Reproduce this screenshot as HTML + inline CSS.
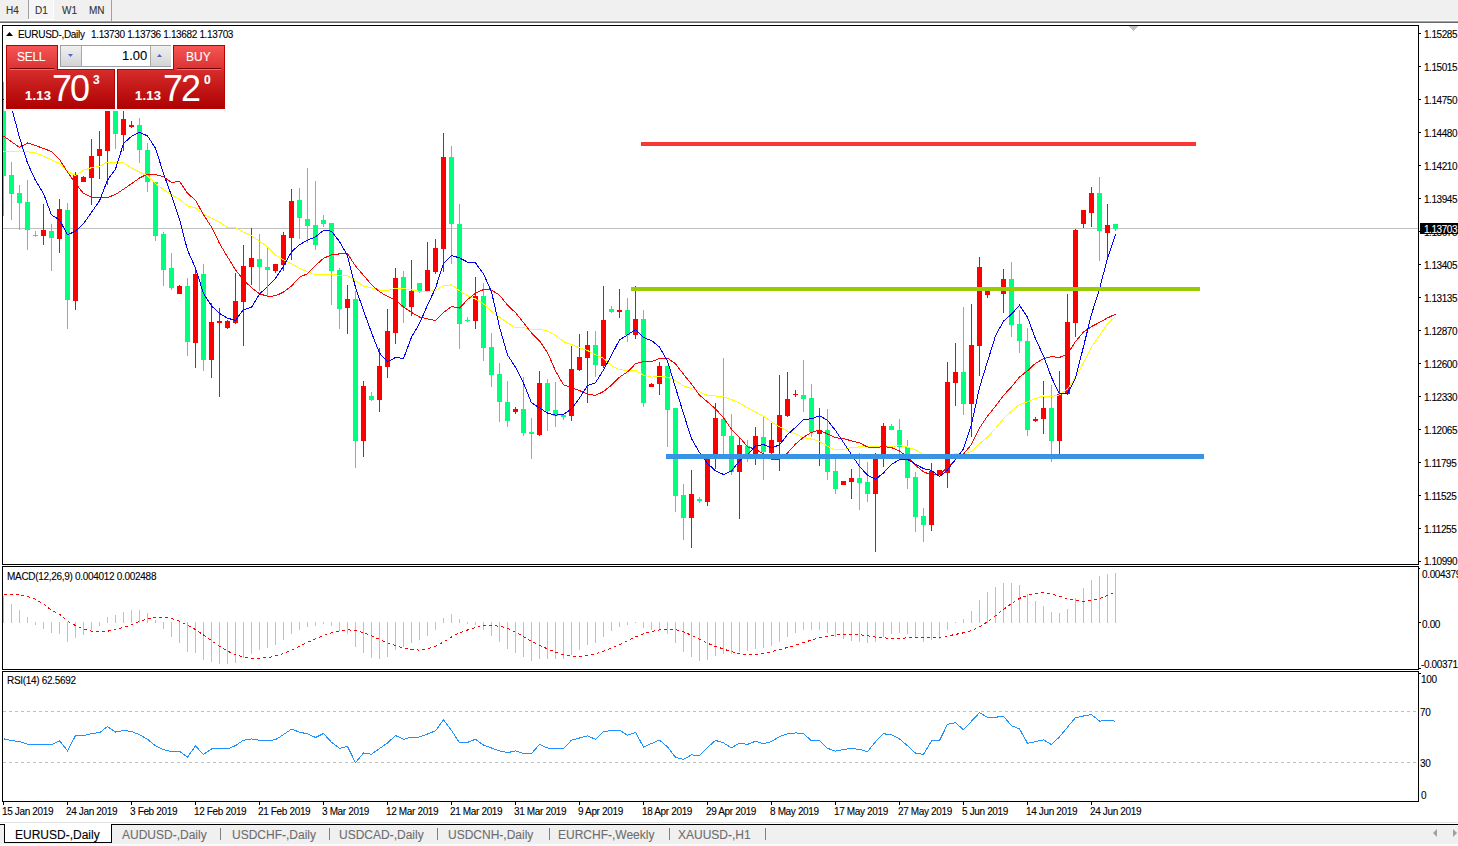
<!DOCTYPE html>
<html><head><meta charset="utf-8"><title>EURUSD Daily</title>
<style>
html,body{margin:0;padding:0}
body{width:1458px;height:846px;position:relative;overflow:hidden;background:#fff;font-family:"Liberation Sans",sans-serif}
.t{position:absolute;white-space:nowrap;line-height:1;-webkit-text-stroke:0.1px currentColor}
.a{position:absolute}
</style></head><body>

<div class="a" style="left:0;top:0;width:1458px;height:20px;background:#f0f0f0"></div>
<div class="a" style="left:0;top:20px;width:1458px;height:1px;background:#f9f9f9"></div>
<div class="a" style="left:0;top:21px;width:1458px;height:1px;background:#a0a0a0"></div>
<div class="a" style="left:0;top:22px;width:1458px;height:1px;background:#6a6a6a"></div>
<div class="a" style="left:28px;top:0;width:1px;height:19px;background:#a0a0a0"></div>
<div class="a" style="left:29px;top:0;width:24px;height:19px;background:#f6f6f6"></div>
<div class="a" style="left:53px;top:0;width:1px;height:20px;background:#fff"></div>
<div class="a" style="left:28px;top:19px;width:26px;height:1px;background:#fff"></div>
<div class="a" style="left:111px;top:0;width:1px;height:21px;background:#a0a0a0"></div>
<div class="t" style="left:6px;top:6px;font-size:10px;color:#333;letter-spacing:0;">H4</div>
<div class="t" style="left:35px;top:6px;font-size:10px;color:#333;letter-spacing:0;">D1</div>
<div class="t" style="left:62px;top:6px;font-size:10px;color:#333;letter-spacing:0;">W1</div>
<div class="t" style="left:89px;top:6px;font-size:10px;color:#333;letter-spacing:0;">MN</div>
<svg class="a" style="left:0;top:0" width="1458" height="846">
<defs><clipPath id="cm"><rect x="3" y="26" width="1415" height="538"/></clipPath><clipPath id="cd"><rect x="3" y="567" width="1415" height="102"/></clipPath><clipPath id="cr"><rect x="3" y="672" width="1415" height="129"/></clipPath></defs>
<g fill="#000" shape-rendering="crispEdges"><rect x="2" y="25" width="1417" height="1"/><rect x="2" y="564" width="1417" height="1"/><rect x="2" y="25" width="1" height="540"/><rect x="1418" y="25" width="1" height="540"/><rect x="2" y="566" width="1417" height="1"/><rect x="2" y="669" width="1417" height="1"/><rect x="2" y="566" width="1" height="104"/><rect x="1418" y="566" width="1" height="104"/><rect x="2" y="671" width="1417" height="1"/><rect x="2" y="801" width="1417" height="1"/><rect x="2" y="671" width="1" height="131"/><rect x="1418" y="671" width="1" height="131"/></g>
<g clip-path="url(#cm)" shape-rendering="crispEdges">
<rect x="3" y="228" width="1415" height="1" fill="#c0c0c0"/>
<rect x="3" y="82" width="1" height="134" fill="#00ff7f"/>
<rect x="1" y="110" width="5" height="66" fill="#00ff7f"/>
<rect x="11" y="162" width="1" height="58" fill="#00ff7f"/>
<rect x="9" y="175" width="5" height="19" fill="#00ff7f"/>
<rect x="19" y="185" width="1" height="45" fill="#00ff7f"/>
<rect x="17" y="193" width="5" height="10" fill="#00ff7f"/>
<rect x="27" y="180" width="1" height="70" fill="#00ff7f"/>
<rect x="25" y="202" width="5" height="28" fill="#00ff7f"/>
<rect x="35" y="231" width="1" height="6" fill="#00ff7f"/>
<rect x="33" y="235" width="5" height="1" fill="#00ff7f"/>
<rect x="43" y="204" width="1" height="41" fill="#ff0000"/>
<rect x="41" y="230" width="5" height="6" fill="#ff0000"/>
<rect x="51" y="224" width="1" height="47" fill="#00ff7f"/>
<rect x="49" y="231" width="5" height="7" fill="#00ff7f"/>
<rect x="59" y="199" width="1" height="54" fill="#ff0000"/>
<rect x="57" y="209" width="5" height="30" fill="#ff0000"/>
<rect x="67" y="203" width="1" height="126" fill="#00ff7f"/>
<rect x="65" y="210" width="5" height="90" fill="#00ff7f"/>
<rect x="75" y="172" width="1" height="138" fill="#ff0000"/>
<rect x="73" y="175" width="5" height="126" fill="#ff0000"/>
<rect x="83" y="176" width="1" height="6" fill="#ff0000"/>
<rect x="81" y="177" width="5" height="5" fill="#ff0000"/>
<rect x="91" y="139" width="1" height="66" fill="#ff0000"/>
<rect x="89" y="156" width="5" height="22" fill="#ff0000"/>
<rect x="99" y="131" width="1" height="48" fill="#ff0000"/>
<rect x="97" y="149" width="5" height="7" fill="#ff0000"/>
<rect x="107" y="88" width="1" height="97" fill="#ff0000"/>
<rect x="105" y="92" width="5" height="59" fill="#ff0000"/>
<rect x="115" y="95" width="1" height="54" fill="#00ff7f"/>
<rect x="113" y="100" width="5" height="34" fill="#00ff7f"/>
<rect x="123" y="111" width="1" height="40" fill="#ff0000"/>
<rect x="121" y="119" width="5" height="16" fill="#ff0000"/>
<rect x="131" y="121" width="1" height="7" fill="#ff0000"/>
<rect x="129" y="125" width="5" height="2" fill="#ff0000"/>
<rect x="139" y="118" width="1" height="45" fill="#00ff7f"/>
<rect x="137" y="125" width="5" height="25" fill="#00ff7f"/>
<rect x="147" y="143" width="1" height="49" fill="#00ff7f"/>
<rect x="145" y="150" width="5" height="32" fill="#00ff7f"/>
<rect x="155" y="182" width="1" height="59" fill="#00ff7f"/>
<rect x="153" y="182" width="5" height="54" fill="#00ff7f"/>
<rect x="163" y="232" width="1" height="54" fill="#00ff7f"/>
<rect x="161" y="234" width="5" height="36" fill="#00ff7f"/>
<rect x="171" y="253" width="1" height="37" fill="#00ff7f"/>
<rect x="169" y="268" width="5" height="20" fill="#00ff7f"/>
<rect x="179" y="285" width="1" height="9" fill="#ff0000"/>
<rect x="177" y="286" width="5" height="8" fill="#ff0000"/>
<rect x="187" y="278" width="1" height="78" fill="#00ff7f"/>
<rect x="185" y="286" width="5" height="56" fill="#00ff7f"/>
<rect x="195" y="269" width="1" height="99" fill="#ff0000"/>
<rect x="193" y="274" width="5" height="69" fill="#ff0000"/>
<rect x="203" y="264" width="1" height="107" fill="#00ff7f"/>
<rect x="201" y="274" width="5" height="86" fill="#00ff7f"/>
<rect x="211" y="303" width="1" height="75" fill="#ff0000"/>
<rect x="209" y="322" width="5" height="38" fill="#ff0000"/>
<rect x="219" y="308" width="1" height="89" fill="#ff0000"/>
<rect x="217" y="321" width="5" height="2" fill="#ff0000"/>
<rect x="227" y="320" width="1" height="9" fill="#ff0000"/>
<rect x="225" y="321" width="5" height="7" fill="#ff0000"/>
<rect x="235" y="273" width="1" height="51" fill="#ff0000"/>
<rect x="233" y="301" width="5" height="22" fill="#ff0000"/>
<rect x="243" y="245" width="1" height="101" fill="#ff0000"/>
<rect x="241" y="266" width="5" height="36" fill="#ff0000"/>
<rect x="251" y="228" width="1" height="57" fill="#ff0000"/>
<rect x="249" y="258" width="5" height="9" fill="#ff0000"/>
<rect x="259" y="234" width="1" height="57" fill="#00ff7f"/>
<rect x="257" y="259" width="5" height="8" fill="#00ff7f"/>
<rect x="267" y="247" width="1" height="49" fill="#00ff7f"/>
<rect x="265" y="267" width="5" height="3" fill="#00ff7f"/>
<rect x="275" y="264" width="1" height="9" fill="#ff0000"/>
<rect x="273" y="264" width="5" height="7" fill="#ff0000"/>
<rect x="283" y="232" width="1" height="39" fill="#ff0000"/>
<rect x="281" y="235" width="5" height="30" fill="#ff0000"/>
<rect x="291" y="189" width="1" height="71" fill="#ff0000"/>
<rect x="289" y="201" width="5" height="37" fill="#ff0000"/>
<rect x="299" y="188" width="1" height="51" fill="#00ff7f"/>
<rect x="297" y="200" width="5" height="18" fill="#00ff7f"/>
<rect x="307" y="168" width="1" height="75" fill="#00ff7f"/>
<rect x="305" y="219" width="5" height="7" fill="#00ff7f"/>
<rect x="315" y="181" width="1" height="69" fill="#00ff7f"/>
<rect x="313" y="225" width="5" height="20" fill="#00ff7f"/>
<rect x="323" y="215" width="1" height="12" fill="#00ff7f"/>
<rect x="321" y="220" width="5" height="4" fill="#00ff7f"/>
<rect x="331" y="223" width="1" height="82" fill="#00ff7f"/>
<rect x="329" y="223" width="5" height="48" fill="#00ff7f"/>
<rect x="339" y="268" width="1" height="61" fill="#00ff7f"/>
<rect x="337" y="270" width="5" height="39" fill="#00ff7f"/>
<rect x="347" y="285" width="1" height="49" fill="#ff0000"/>
<rect x="345" y="299" width="5" height="9" fill="#ff0000"/>
<rect x="355" y="291" width="1" height="177" fill="#00ff7f"/>
<rect x="353" y="299" width="5" height="142" fill="#00ff7f"/>
<rect x="363" y="381" width="1" height="76" fill="#ff0000"/>
<rect x="361" y="386" width="5" height="55" fill="#ff0000"/>
<rect x="371" y="392" width="1" height="9" fill="#00ff7f"/>
<rect x="369" y="396" width="5" height="4" fill="#00ff7f"/>
<rect x="379" y="348" width="1" height="64" fill="#ff0000"/>
<rect x="377" y="366" width="5" height="34" fill="#ff0000"/>
<rect x="387" y="309" width="1" height="69" fill="#ff0000"/>
<rect x="385" y="331" width="5" height="36" fill="#ff0000"/>
<rect x="395" y="268" width="1" height="76" fill="#ff0000"/>
<rect x="393" y="278" width="5" height="55" fill="#ff0000"/>
<rect x="403" y="271" width="1" height="52" fill="#00ff7f"/>
<rect x="401" y="277" width="5" height="30" fill="#00ff7f"/>
<rect x="411" y="260" width="1" height="56" fill="#ff0000"/>
<rect x="409" y="291" width="5" height="16" fill="#ff0000"/>
<rect x="419" y="283" width="1" height="10" fill="#00ff7f"/>
<rect x="417" y="283" width="5" height="8" fill="#00ff7f"/>
<rect x="427" y="242" width="1" height="49" fill="#ff0000"/>
<rect x="425" y="270" width="5" height="21" fill="#ff0000"/>
<rect x="435" y="239" width="1" height="35" fill="#ff0000"/>
<rect x="433" y="248" width="5" height="24" fill="#ff0000"/>
<rect x="443" y="133" width="1" height="139" fill="#ff0000"/>
<rect x="441" y="157" width="5" height="92" fill="#ff0000"/>
<rect x="451" y="146" width="1" height="118" fill="#00ff7f"/>
<rect x="449" y="157" width="5" height="67" fill="#00ff7f"/>
<rect x="459" y="204" width="1" height="145" fill="#00ff7f"/>
<rect x="457" y="224" width="5" height="100" fill="#00ff7f"/>
<rect x="467" y="317" width="1" height="5" fill="#00ff7f"/>
<rect x="465" y="320" width="5" height="1" fill="#00ff7f"/>
<rect x="475" y="277" width="1" height="52" fill="#ff0000"/>
<rect x="473" y="296" width="5" height="25" fill="#ff0000"/>
<rect x="483" y="283" width="1" height="78" fill="#00ff7f"/>
<rect x="481" y="296" width="5" height="52" fill="#00ff7f"/>
<rect x="491" y="333" width="1" height="54" fill="#00ff7f"/>
<rect x="489" y="347" width="5" height="28" fill="#00ff7f"/>
<rect x="499" y="363" width="1" height="59" fill="#00ff7f"/>
<rect x="497" y="374" width="5" height="28" fill="#00ff7f"/>
<rect x="507" y="381" width="1" height="46" fill="#00ff7f"/>
<rect x="505" y="402" width="5" height="19" fill="#00ff7f"/>
<rect x="515" y="407" width="1" height="7" fill="#ff0000"/>
<rect x="513" y="409" width="5" height="3" fill="#ff0000"/>
<rect x="523" y="377" width="1" height="59" fill="#00ff7f"/>
<rect x="521" y="409" width="5" height="24" fill="#00ff7f"/>
<rect x="531" y="418" width="1" height="41" fill="#00ff7f"/>
<rect x="529" y="432" width="5" height="2" fill="#00ff7f"/>
<rect x="539" y="371" width="1" height="65" fill="#ff0000"/>
<rect x="537" y="383" width="5" height="52" fill="#ff0000"/>
<rect x="547" y="379" width="1" height="52" fill="#00ff7f"/>
<rect x="545" y="383" width="5" height="28" fill="#00ff7f"/>
<rect x="555" y="382" width="1" height="45" fill="#00ff7f"/>
<rect x="553" y="410" width="5" height="6" fill="#00ff7f"/>
<rect x="563" y="415" width="1" height="5" fill="#00ff7f"/>
<rect x="561" y="415" width="5" height="2" fill="#00ff7f"/>
<rect x="571" y="346" width="1" height="75" fill="#ff0000"/>
<rect x="569" y="369" width="5" height="47" fill="#ff0000"/>
<rect x="579" y="334" width="1" height="37" fill="#ff0000"/>
<rect x="577" y="357" width="5" height="13" fill="#ff0000"/>
<rect x="587" y="331" width="1" height="72" fill="#ff0000"/>
<rect x="585" y="345" width="5" height="13" fill="#ff0000"/>
<rect x="595" y="331" width="1" height="46" fill="#00ff7f"/>
<rect x="593" y="345" width="5" height="20" fill="#00ff7f"/>
<rect x="603" y="286" width="1" height="82" fill="#ff0000"/>
<rect x="601" y="320" width="5" height="46" fill="#ff0000"/>
<rect x="611" y="306" width="1" height="7" fill="#00ff7f"/>
<rect x="609" y="309" width="5" height="3" fill="#00ff7f"/>
<rect x="619" y="289" width="1" height="29" fill="#ff0000"/>
<rect x="617" y="310" width="5" height="2" fill="#ff0000"/>
<rect x="627" y="298" width="1" height="44" fill="#00ff7f"/>
<rect x="625" y="310" width="5" height="25" fill="#00ff7f"/>
<rect x="635" y="286" width="1" height="53" fill="#ff0000"/>
<rect x="633" y="319" width="5" height="16" fill="#ff0000"/>
<rect x="643" y="310" width="1" height="97" fill="#00ff7f"/>
<rect x="641" y="319" width="5" height="84" fill="#00ff7f"/>
<rect x="651" y="383" width="1" height="4" fill="#ff0000"/>
<rect x="649" y="384" width="5" height="3" fill="#ff0000"/>
<rect x="659" y="362" width="1" height="33" fill="#ff0000"/>
<rect x="657" y="366" width="5" height="18" fill="#ff0000"/>
<rect x="667" y="366" width="1" height="81" fill="#00ff7f"/>
<rect x="665" y="366" width="5" height="44" fill="#00ff7f"/>
<rect x="675" y="408" width="1" height="104" fill="#00ff7f"/>
<rect x="673" y="408" width="5" height="88" fill="#00ff7f"/>
<rect x="683" y="484" width="1" height="56" fill="#00ff7f"/>
<rect x="681" y="495" width="5" height="23" fill="#00ff7f"/>
<rect x="691" y="470" width="1" height="78" fill="#ff0000"/>
<rect x="689" y="494" width="5" height="24" fill="#ff0000"/>
<rect x="699" y="497" width="1" height="6" fill="#00ff7f"/>
<rect x="697" y="499" width="5" height="2" fill="#00ff7f"/>
<rect x="707" y="456" width="1" height="50" fill="#ff0000"/>
<rect x="705" y="459" width="5" height="43" fill="#ff0000"/>
<rect x="715" y="403" width="1" height="66" fill="#ff0000"/>
<rect x="713" y="418" width="5" height="36" fill="#ff0000"/>
<rect x="723" y="358" width="1" height="97" fill="#00ff7f"/>
<rect x="721" y="419" width="5" height="17" fill="#00ff7f"/>
<rect x="731" y="414" width="1" height="61" fill="#00ff7f"/>
<rect x="729" y="436" width="5" height="36" fill="#00ff7f"/>
<rect x="739" y="438" width="1" height="81" fill="#ff0000"/>
<rect x="737" y="445" width="5" height="27" fill="#ff0000"/>
<rect x="747" y="440" width="1" height="22" fill="#00ff7f"/>
<rect x="745" y="446" width="5" height="8" fill="#00ff7f"/>
<rect x="755" y="427" width="1" height="38" fill="#ff0000"/>
<rect x="753" y="436" width="5" height="18" fill="#ff0000"/>
<rect x="763" y="417" width="1" height="63" fill="#00ff7f"/>
<rect x="761" y="437" width="5" height="15" fill="#00ff7f"/>
<rect x="771" y="423" width="1" height="37" fill="#ff0000"/>
<rect x="769" y="440" width="5" height="13" fill="#ff0000"/>
<rect x="779" y="375" width="1" height="96" fill="#ff0000"/>
<rect x="777" y="415" width="5" height="27" fill="#ff0000"/>
<rect x="787" y="372" width="1" height="45" fill="#ff0000"/>
<rect x="785" y="399" width="5" height="17" fill="#ff0000"/>
<rect x="795" y="390" width="1" height="7" fill="#ff0000"/>
<rect x="793" y="394" width="5" height="1" fill="#ff0000"/>
<rect x="803" y="360" width="1" height="52" fill="#00ff7f"/>
<rect x="801" y="395" width="5" height="4" fill="#00ff7f"/>
<rect x="811" y="384" width="1" height="53" fill="#00ff7f"/>
<rect x="809" y="398" width="5" height="34" fill="#00ff7f"/>
<rect x="819" y="408" width="1" height="58" fill="#ff0000"/>
<rect x="817" y="430" width="5" height="4" fill="#ff0000"/>
<rect x="827" y="409" width="1" height="71" fill="#00ff7f"/>
<rect x="825" y="430" width="5" height="42" fill="#00ff7f"/>
<rect x="835" y="459" width="1" height="35" fill="#00ff7f"/>
<rect x="833" y="471" width="5" height="18" fill="#00ff7f"/>
<rect x="843" y="481" width="1" height="4" fill="#ff0000"/>
<rect x="841" y="481" width="5" height="4" fill="#ff0000"/>
<rect x="851" y="469" width="1" height="30" fill="#ff0000"/>
<rect x="849" y="478" width="5" height="4" fill="#ff0000"/>
<rect x="859" y="453" width="1" height="57" fill="#00ff7f"/>
<rect x="857" y="478" width="5" height="5" fill="#00ff7f"/>
<rect x="867" y="462" width="1" height="40" fill="#00ff7f"/>
<rect x="865" y="482" width="5" height="12" fill="#00ff7f"/>
<rect x="875" y="453" width="1" height="99" fill="#ff0000"/>
<rect x="873" y="459" width="5" height="35" fill="#ff0000"/>
<rect x="883" y="423" width="1" height="44" fill="#ff0000"/>
<rect x="881" y="426" width="5" height="28" fill="#ff0000"/>
<rect x="891" y="424" width="1" height="6" fill="#00ff7f"/>
<rect x="889" y="426" width="5" height="4" fill="#00ff7f"/>
<rect x="899" y="419" width="1" height="36" fill="#00ff7f"/>
<rect x="897" y="430" width="5" height="17" fill="#00ff7f"/>
<rect x="907" y="440" width="1" height="49" fill="#00ff7f"/>
<rect x="905" y="447" width="5" height="31" fill="#00ff7f"/>
<rect x="915" y="472" width="1" height="60" fill="#00ff7f"/>
<rect x="913" y="477" width="5" height="40" fill="#00ff7f"/>
<rect x="923" y="508" width="1" height="34" fill="#00ff7f"/>
<rect x="921" y="516" width="5" height="9" fill="#00ff7f"/>
<rect x="931" y="463" width="1" height="68" fill="#ff0000"/>
<rect x="929" y="471" width="5" height="54" fill="#ff0000"/>
<rect x="939" y="470" width="1" height="5" fill="#ff0000"/>
<rect x="937" y="470" width="5" height="5" fill="#ff0000"/>
<rect x="947" y="362" width="1" height="126" fill="#ff0000"/>
<rect x="945" y="382" width="5" height="91" fill="#ff0000"/>
<rect x="955" y="343" width="1" height="63" fill="#ff0000"/>
<rect x="953" y="372" width="5" height="11" fill="#ff0000"/>
<rect x="963" y="307" width="1" height="108" fill="#00ff7f"/>
<rect x="961" y="372" width="5" height="32" fill="#00ff7f"/>
<rect x="971" y="304" width="1" height="133" fill="#ff0000"/>
<rect x="969" y="345" width="5" height="59" fill="#ff0000"/>
<rect x="979" y="257" width="1" height="119" fill="#ff0000"/>
<rect x="977" y="267" width="5" height="79" fill="#ff0000"/>
<rect x="987" y="288" width="1" height="10" fill="#ff0000"/>
<rect x="985" y="289" width="5" height="6" fill="#ff0000"/>
<rect x="995" y="288" width="1" height="2" fill="#00ff7f"/>
<rect x="993" y="288" width="5" height="2" fill="#00ff7f"/>
<rect x="1003" y="269" width="1" height="44" fill="#ff0000"/>
<rect x="1001" y="279" width="5" height="15" fill="#ff0000"/>
<rect x="1011" y="262" width="1" height="75" fill="#00ff7f"/>
<rect x="1009" y="279" width="5" height="46" fill="#00ff7f"/>
<rect x="1019" y="310" width="1" height="43" fill="#00ff7f"/>
<rect x="1017" y="324" width="5" height="17" fill="#00ff7f"/>
<rect x="1027" y="328" width="1" height="108" fill="#00ff7f"/>
<rect x="1025" y="341" width="5" height="89" fill="#00ff7f"/>
<rect x="1035" y="417" width="1" height="5" fill="#ff0000"/>
<rect x="1033" y="419" width="5" height="2" fill="#ff0000"/>
<rect x="1043" y="381" width="1" height="53" fill="#ff0000"/>
<rect x="1041" y="408" width="5" height="11" fill="#ff0000"/>
<rect x="1051" y="385" width="1" height="77" fill="#00ff7f"/>
<rect x="1049" y="408" width="5" height="33" fill="#00ff7f"/>
<rect x="1059" y="371" width="1" height="84" fill="#ff0000"/>
<rect x="1057" y="394" width="5" height="47" fill="#ff0000"/>
<rect x="1067" y="294" width="1" height="101" fill="#ff0000"/>
<rect x="1065" y="322" width="5" height="72" fill="#ff0000"/>
<rect x="1075" y="229" width="1" height="108" fill="#ff0000"/>
<rect x="1073" y="230" width="5" height="93" fill="#ff0000"/>
<rect x="1083" y="210" width="1" height="18" fill="#ff0000"/>
<rect x="1081" y="210" width="5" height="14" fill="#ff0000"/>
<rect x="1091" y="187" width="1" height="40" fill="#ff0000"/>
<rect x="1089" y="193" width="5" height="20" fill="#ff0000"/>
<rect x="1099" y="177" width="1" height="84" fill="#00ff7f"/>
<rect x="1097" y="193" width="5" height="38" fill="#00ff7f"/>
<rect x="1107" y="204" width="1" height="53" fill="#ff0000"/>
<rect x="1105" y="225" width="5" height="8" fill="#ff0000"/>
<rect x="1115" y="224" width="1" height="7" fill="#00ff7f"/>
<rect x="1113" y="224" width="5" height="5" fill="#00ff7f"/>
<polyline points="3.5,151.9 11.5,151.5 19.5,151.0 27.5,151.8 35.5,152.9 43.5,156.1 51.5,159.8 59.5,163.5 67.5,171.5 75.5,175.5 83.5,170.3 91.5,167.7 99.5,166.2 107.5,162.0 115.5,162.0 123.5,162.8 131.5,168.0 139.5,172.0 147.5,176.0 155.5,183.5 163.5,189.5 171.5,194.8 179.5,199.3 187.5,205.9 195.5,208.0 203.5,213.9 211.5,218.3 219.5,222.3 227.5,227.6 235.5,227.7 243.5,232.1 251.5,235.9 259.5,241.2 267.5,246.9 275.5,255.1 283.5,259.9 291.5,263.8 299.5,268.2 307.5,271.8 315.5,274.8 323.5,274.3 331.5,274.3 339.5,275.3 347.5,275.9 355.5,280.6 363.5,286.0 371.5,287.9 379.5,290.0 387.5,290.5 395.5,288.4 403.5,288.6 411.5,289.8 419.5,291.4 427.5,291.5 435.5,290.5 443.5,285.5 451.5,284.9 459.5,290.7 467.5,295.6 475.5,299.0 483.5,303.9 491.5,311.1 499.5,317.3 507.5,322.6 515.5,327.9 523.5,327.5 531.5,329.7 539.5,329.0 547.5,331.1 555.5,335.1 563.5,341.6 571.5,344.6 579.5,347.8 587.5,350.4 595.5,354.9 603.5,358.3 611.5,365.6 619.5,369.8 627.5,370.3 635.5,370.3 643.5,375.3 651.5,377.1 659.5,376.7 667.5,377.1 675.5,380.6 683.5,385.8 691.5,388.7 699.5,391.9 707.5,395.5 715.5,395.9 723.5,396.9 731.5,399.5 739.5,403.1 747.5,407.7 755.5,412.0 763.5,416.2 771.5,421.9 779.5,426.8 787.5,431.1 795.5,433.9 803.5,437.7 811.5,439.1 819.5,441.3 827.5,446.3 835.5,450.0 843.5,449.4 851.5,447.5 859.5,446.9 867.5,446.6 875.5,446.6 883.5,447.0 891.5,446.7 899.5,445.5 907.5,447.0 915.5,450.0 923.5,454.2 931.5,455.2 939.5,456.6 947.5,455.0 955.5,453.7 963.5,454.2 971.5,451.6 979.5,443.8 987.5,437.1 995.5,428.5 1003.5,418.5 1011.5,411.0 1019.5,404.5 1027.5,401.9 1035.5,398.4 1043.5,396.0 1051.5,396.6 1059.5,395.0 1067.5,389.1 1075.5,377.3 1083.5,362.7 1091.5,347.0 1099.5,335.5 1107.5,323.8 1115.5,316.5" fill="none" stroke="#ffff00" stroke-width="1"/><polyline points="3.5,136.0 11.5,141.7 19.5,147.5 27.5,143.0 35.5,145.5 43.5,148.5 51.5,151.5 59.5,159.5 67.5,172.0 75.5,183.5 83.5,193.5 91.5,197.0 99.5,197.5 107.5,197.5 115.5,194.5 123.5,189.2 131.5,183.7 139.5,178.0 147.5,174.1 155.5,174.5 163.5,176.8 171.5,182.4 179.5,181.4 187.5,193.3 195.5,200.2 203.5,214.7 211.5,227.1 219.5,243.4 227.5,256.9 235.5,269.9 243.5,279.9 251.5,287.7 259.5,293.8 267.5,296.2 275.5,295.9 283.5,292.1 291.5,286.1 299.5,277.2 307.5,273.7 315.5,265.5 323.5,258.4 331.5,254.8 339.5,253.9 347.5,253.7 355.5,266.1 363.5,275.3 371.5,284.8 379.5,291.7 387.5,296.5 395.5,299.6 403.5,307.1 411.5,312.4 419.5,317.0 427.5,318.9 435.5,320.6 443.5,312.6 451.5,306.5 459.5,308.2 467.5,299.6 475.5,293.2 483.5,289.5 491.5,290.1 499.5,295.1 507.5,305.2 515.5,312.6 523.5,322.6 531.5,332.9 539.5,340.9 547.5,352.5 555.5,370.9 563.5,384.7 571.5,388.0 579.5,390.6 587.5,394.1 595.5,395.4 603.5,391.5 611.5,385.1 619.5,377.2 627.5,371.9 635.5,363.8 643.5,361.6 651.5,361.6 659.5,358.5 667.5,358.1 675.5,363.7 683.5,374.3 691.5,384.1 699.5,395.1 707.5,401.9 715.5,408.9 723.5,417.8 731.5,429.3 739.5,437.2 747.5,446.8 755.5,449.2 763.5,454.0 771.5,459.3 779.5,459.7 787.5,452.9 795.5,444.1 803.5,437.2 811.5,432.3 819.5,430.2 827.5,434.0 835.5,437.8 843.5,438.5 851.5,440.9 859.5,442.9 867.5,447.0 875.5,447.6 883.5,446.6 891.5,447.6 899.5,450.9 907.5,456.9 915.5,465.3 923.5,471.9 931.5,474.9 939.5,474.8 947.5,467.2 955.5,459.4 963.5,454.1 971.5,444.3 979.5,428.1 987.5,416.0 995.5,406.2 1003.5,395.5 1011.5,386.8 1019.5,377.0 1027.5,370.8 1035.5,363.3 1043.5,358.8 1051.5,356.6 1059.5,357.5 1067.5,353.9 1075.5,341.6 1083.5,331.9 1091.5,326.6 1099.5,322.4 1107.5,317.9 1115.5,314.2" fill="none" stroke="#ff0000" stroke-width="1"/><polyline points="3.5,99.5 11.5,107.5 19.5,137.5 27.5,163.0 35.5,180.5 43.5,193.5 51.5,214.9 59.5,219.8 67.5,234.9 75.5,231.1 83.5,223.6 91.5,212.4 99.5,200.8 107.5,180.1 115.5,169.2 123.5,143.5 131.5,136.4 139.5,132.4 147.5,135.9 155.5,148.2 163.5,173.5 171.5,195.5 179.5,219.4 187.5,250.2 195.5,268.1 203.5,293.5 211.5,305.9 219.5,313.4 227.5,318.2 235.5,320.4 243.5,309.6 251.5,307.4 259.5,294.1 267.5,286.5 275.5,278.4 283.5,266.1 291.5,251.8 299.5,244.8 307.5,240.1 315.5,236.9 323.5,230.4 331.5,231.2 339.5,241.6 347.5,255.6 355.5,287.5 363.5,310.5 371.5,332.6 379.5,353.1 387.5,361.8 395.5,357.5 403.5,358.5 411.5,337.2 419.5,323.5 427.5,305.1 435.5,288.2 443.5,263.4 451.5,255.5 459.5,257.9 467.5,262.1 475.5,262.9 483.5,273.9 491.5,291.9 499.5,326.8 507.5,354.9 515.5,367.2 523.5,383.2 531.5,402.8 539.5,407.9 547.5,413.1 555.5,415.1 563.5,414.5 571.5,408.8 579.5,398.1 587.5,385.5 595.5,382.8 603.5,369.9 611.5,355.1 619.5,339.9 627.5,334.9 635.5,329.5 643.5,337.6 651.5,340.5 659.5,347.1 667.5,361.1 675.5,387.5 683.5,413.6 691.5,438.6 699.5,452.6 707.5,463.4 715.5,470.8 723.5,474.5 731.5,471.1 739.5,460.8 747.5,454.9 755.5,445.8 763.5,444.6 771.5,447.8 779.5,444.9 787.5,434.6 795.5,427.4 803.5,419.5 811.5,418.8 819.5,415.8 827.5,420.2 835.5,430.6 843.5,442.4 851.5,454.4 859.5,466.4 867.5,475.2 875.5,479.4 883.5,472.9 891.5,464.5 899.5,459.5 907.5,459.4 915.5,464.2 923.5,468.6 931.5,470.4 939.5,476.6 947.5,469.9 955.5,459.4 963.5,448.8 971.5,424.4 979.5,387.6 987.5,361.6 995.5,335.8 1003.5,321.1 1011.5,314.2 1019.5,305.2 1027.5,317.2 1035.5,338.9 1043.5,355.9 1051.5,377.5 1059.5,393.9 1067.5,393.6 1075.5,377.9 1083.5,346.6 1091.5,314.4 1099.5,288.9 1107.5,258.2 1115.5,234.5" fill="none" stroke="#0000ff" stroke-width="1"/>
<rect x="641" y="142" width="555" height="4" fill="#fb3434"/>
<rect x="631" y="287" width="569" height="4" fill="#99cc00"/>
<rect x="666" y="454" width="538" height="5" fill="#3894e2"/>
<polygon points="1129,26 1138,26 1133.5,31" fill="#c0c0c0"/>
</g>
<g clip-path="url(#cd)" shape-rendering="crispEdges">
<g fill="#c0c0c0"><rect x="3" y="596" width="1" height="27"/><rect x="11" y="604" width="1" height="19"/><rect x="19" y="610" width="1" height="13"/><rect x="27" y="617" width="1" height="6"/><rect x="35" y="622" width="1" height="3"/><rect x="43" y="622" width="1" height="7"/><rect x="51" y="622" width="1" height="11"/><rect x="59" y="622" width="1" height="12"/><rect x="67" y="622" width="1" height="20"/><rect x="75" y="622" width="1" height="16"/><rect x="83" y="622" width="1" height="13"/><rect x="91" y="622" width="1" height="8"/><rect x="99" y="622" width="1" height="4"/><rect x="107" y="617" width="1" height="6"/><rect x="115" y="615" width="1" height="8"/><rect x="123" y="612" width="1" height="11"/><rect x="131" y="610" width="1" height="13"/><rect x="139" y="610" width="1" height="13"/><rect x="147" y="613" width="1" height="10"/><rect x="155" y="620" width="1" height="3"/><rect x="163" y="622" width="1" height="7"/><rect x="171" y="622" width="1" height="15"/><rect x="179" y="622" width="1" height="21"/><rect x="187" y="622" width="1" height="30"/><rect x="195" y="622" width="1" height="31"/><rect x="203" y="622" width="1" height="38"/><rect x="211" y="622" width="1" height="40"/><rect x="219" y="622" width="1" height="42"/><rect x="227" y="622" width="1" height="42"/><rect x="235" y="622" width="1" height="41"/><rect x="243" y="622" width="1" height="36"/><rect x="251" y="622" width="1" height="32"/><rect x="259" y="622" width="1" height="28"/><rect x="267" y="622" width="1" height="26"/><rect x="275" y="622" width="1" height="23"/><rect x="283" y="622" width="1" height="18"/><rect x="291" y="622" width="1" height="12"/><rect x="299" y="622" width="1" height="8"/><rect x="307" y="622" width="1" height="5"/><rect x="315" y="622" width="1" height="4"/><rect x="323" y="622" width="1" height="2"/><rect x="331" y="622" width="1" height="4"/><rect x="339" y="622" width="1" height="9"/><rect x="347" y="622" width="1" height="12"/><rect x="355" y="622" width="1" height="25"/><rect x="363" y="622" width="1" height="31"/><rect x="371" y="622" width="1" height="36"/><rect x="379" y="622" width="1" height="37"/><rect x="387" y="622" width="1" height="35"/><rect x="395" y="622" width="1" height="28"/><rect x="403" y="622" width="1" height="25"/><rect x="411" y="622" width="1" height="21"/><rect x="419" y="622" width="1" height="18"/><rect x="427" y="622" width="1" height="14"/><rect x="435" y="622" width="1" height="8"/><rect x="443" y="618" width="1" height="5"/><rect x="451" y="614" width="1" height="9"/><rect x="459" y="619" width="1" height="4"/><rect x="467" y="622" width="1" height="2"/><rect x="475" y="622" width="1" height="3"/><rect x="483" y="622" width="1" height="8"/><rect x="491" y="622" width="1" height="14"/><rect x="499" y="622" width="1" height="20"/><rect x="507" y="622" width="1" height="27"/><rect x="515" y="622" width="1" height="31"/><rect x="523" y="622" width="1" height="35"/><rect x="531" y="622" width="1" height="39"/><rect x="539" y="622" width="1" height="37"/><rect x="547" y="622" width="1" height="37"/><rect x="555" y="622" width="1" height="37"/><rect x="563" y="622" width="1" height="37"/><rect x="571" y="622" width="1" height="33"/><rect x="579" y="622" width="1" height="28"/><rect x="587" y="622" width="1" height="23"/><rect x="595" y="622" width="1" height="21"/><rect x="603" y="622" width="1" height="15"/><rect x="611" y="622" width="1" height="9"/><rect x="619" y="622" width="1" height="5"/><rect x="627" y="622" width="1" height="3"/><rect x="635" y="622" width="1" height="1"/><rect x="643" y="622" width="1" height="6"/><rect x="651" y="622" width="1" height="8"/><rect x="659" y="622" width="1" height="8"/><rect x="667" y="622" width="1" height="12"/><rect x="675" y="622" width="1" height="21"/><rect x="683" y="622" width="1" height="30"/><rect x="691" y="622" width="1" height="35"/><rect x="699" y="622" width="1" height="39"/><rect x="707" y="622" width="1" height="38"/><rect x="715" y="622" width="1" height="34"/><rect x="723" y="622" width="1" height="32"/><rect x="731" y="622" width="1" height="32"/><rect x="739" y="622" width="1" height="30"/><rect x="747" y="622" width="1" height="29"/><rect x="755" y="622" width="1" height="27"/><rect x="763" y="622" width="1" height="26"/><rect x="771" y="622" width="1" height="24"/><rect x="779" y="622" width="1" height="20"/><rect x="787" y="622" width="1" height="15"/><rect x="795" y="622" width="1" height="11"/><rect x="803" y="622" width="1" height="8"/><rect x="811" y="622" width="1" height="8"/><rect x="819" y="622" width="1" height="8"/><rect x="827" y="622" width="1" height="11"/><rect x="835" y="622" width="1" height="15"/><rect x="843" y="622" width="1" height="17"/><rect x="851" y="622" width="1" height="19"/><rect x="859" y="622" width="1" height="20"/><rect x="867" y="622" width="1" height="21"/><rect x="875" y="622" width="1" height="20"/><rect x="883" y="622" width="1" height="15"/><rect x="891" y="622" width="1" height="12"/><rect x="899" y="622" width="1" height="11"/><rect x="907" y="622" width="1" height="12"/><rect x="915" y="622" width="1" height="16"/><rect x="923" y="622" width="1" height="20"/><rect x="931" y="622" width="1" height="18"/><rect x="939" y="622" width="1" height="17"/><rect x="947" y="622" width="1" height="8"/><rect x="955" y="622" width="1" height="1"/><rect x="963" y="619" width="1" height="4"/><rect x="971" y="611" width="1" height="12"/><rect x="979" y="600" width="1" height="23"/><rect x="987" y="592" width="1" height="31"/><rect x="995" y="587" width="1" height="36"/><rect x="1003" y="583" width="1" height="40"/><rect x="1011" y="583" width="1" height="40"/><rect x="1019" y="585" width="1" height="38"/><rect x="1027" y="594" width="1" height="29"/><rect x="1035" y="601" width="1" height="22"/><rect x="1043" y="606" width="1" height="17"/><rect x="1051" y="612" width="1" height="11"/><rect x="1059" y="613" width="1" height="10"/><rect x="1067" y="609" width="1" height="14"/><rect x="1075" y="598" width="1" height="25"/><rect x="1083" y="588" width="1" height="35"/><rect x="1091" y="580" width="1" height="43"/><rect x="1099" y="576" width="1" height="47"/><rect x="1107" y="574" width="1" height="49"/><rect x="1115" y="573" width="1" height="50"/></g>
<polyline points="3.5,594.6 11.5,594.6 19.5,594.6 27.5,596.3 35.5,599.3 43.5,603.8 51.5,610.3 59.5,614.1 67.5,621.1 75.5,625.6 83.5,628.9 91.5,631.1 99.5,631.9 107.5,631.2 115.5,629.7 123.5,627.4 131.5,624.8 139.5,621.4 147.5,618.8 155.5,617.3 163.5,617.2 171.5,618.4 179.5,621.2 187.5,625.1 195.5,629.6 203.5,635.1 211.5,640.8 219.5,646.3 227.5,651.1 235.5,654.8 243.5,657.1 251.5,658.3 259.5,658.2 267.5,657.7 275.5,656.0 283.5,653.5 291.5,650.2 299.5,646.3 307.5,642.3 315.5,638.8 323.5,635.5 331.5,632.9 339.5,631.0 347.5,629.8 355.5,630.5 363.5,632.7 371.5,635.8 379.5,639.4 387.5,642.8 395.5,645.7 403.5,648.1 411.5,649.4 419.5,650.1 427.5,648.9 435.5,646.3 443.5,642.0 451.5,637.0 459.5,632.9 467.5,630.0 475.5,627.5 483.5,626.0 491.5,625.5 499.5,626.2 507.5,628.3 515.5,632.1 523.5,636.8 531.5,641.3 539.5,645.2 547.5,649.0 555.5,652.2 563.5,654.8 571.5,656.2 579.5,656.3 587.5,655.5 595.5,653.9 603.5,651.2 611.5,648.2 619.5,644.6 627.5,640.9 635.5,636.9 643.5,633.8 651.5,631.6 659.5,629.9 667.5,628.9 675.5,629.6 683.5,631.9 691.5,635.2 699.5,639.1 707.5,643.2 715.5,646.4 723.5,649.0 731.5,651.7 739.5,653.8 747.5,654.7 755.5,654.4 763.5,653.3 771.5,651.6 779.5,649.6 787.5,647.5 795.5,645.2 803.5,642.5 811.5,640.1 819.5,637.7 827.5,636.1 835.5,634.9 843.5,634.2 851.5,634.1 859.5,634.6 867.5,635.8 875.5,637.1 883.5,637.9 891.5,638.3 899.5,638.2 907.5,637.9 915.5,637.8 923.5,638.0 931.5,637.8 939.5,637.3 947.5,636.0 955.5,634.4 963.5,632.8 971.5,630.5 979.5,626.8 987.5,621.8 995.5,615.8 1003.5,609.5 1011.5,603.4 1019.5,598.4 1027.5,595.4 1035.5,593.4 1043.5,592.7 1051.5,594.1 1059.5,596.4 1067.5,598.8 1075.5,600.6 1083.5,601.2 1091.5,600.6 1099.5,598.6 1107.5,595.6 1115.5,591.9" fill="none" stroke="#ff0000" stroke-width="1" stroke-dasharray="3,3"/>
</g>
<g clip-path="url(#cr)" shape-rendering="crispEdges">
<line x1="3" y1="711.5" x2="1418" y2="711.5" stroke="#c0c0c0" stroke-dasharray="3,3"/>
<line x1="3" y1="762.5" x2="1418" y2="762.5" stroke="#c0c0c0" stroke-dasharray="3,3"/>
<polyline points="3.5,738.8 11.5,740.6 19.5,741.5 27.5,744.1 35.5,744.7 43.5,744.1 51.5,744.9 59.5,740.8 67.5,750.7 75.5,735.6 83.5,735.8 91.5,733.5 99.5,732.7 107.5,726.6 115.5,732.1 123.5,730.6 131.5,731.4 139.5,734.8 147.5,739.2 155.5,745.9 163.5,749.6 171.5,751.5 179.5,751.3 187.5,757.1 195.5,746.0 203.5,754.5 211.5,749.0 219.5,748.9 227.5,748.9 235.5,745.6 243.5,740.2 251.5,739.0 259.5,740.2 267.5,740.7 275.5,739.7 283.5,734.6 291.5,729.1 299.5,732.2 307.5,733.8 315.5,737.5 323.5,733.5 331.5,742.3 339.5,748.3 347.5,746.4 355.5,762.7 363.5,752.9 371.5,754.2 379.5,748.6 387.5,743.0 395.5,735.5 403.5,739.3 411.5,737.2 419.5,737.0 427.5,734.0 435.5,730.8 443.5,719.8 451.5,730.4 459.5,742.8 467.5,742.4 475.5,739.2 483.5,745.1 491.5,748.0 499.5,750.8 507.5,752.7 515.5,750.9 523.5,753.4 531.5,753.5 539.5,744.5 547.5,748.0 555.5,748.6 563.5,748.8 571.5,740.1 579.5,738.0 587.5,735.9 595.5,739.3 603.5,731.8 611.5,730.3 619.5,730.2 627.5,735.2 635.5,732.4 643.5,747.0 651.5,743.5 659.5,740.1 667.5,746.9 675.5,757.3 683.5,759.5 691.5,754.9 699.5,755.6 707.5,747.5 715.5,740.4 723.5,742.9 731.5,747.8 739.5,743.2 747.5,744.4 755.5,741.2 763.5,743.7 771.5,741.5 779.5,736.7 787.5,733.8 795.5,732.9 803.5,733.7 811.5,740.7 819.5,740.5 827.5,748.3 835.5,751.2 843.5,749.4 851.5,748.6 859.5,749.4 867.5,751.6 875.5,741.8 883.5,733.8 891.5,734.6 899.5,738.9 907.5,745.8 915.5,753.1 923.5,754.4 931.5,740.9 939.5,740.6 947.5,724.3 955.5,722.8 963.5,729.7 971.5,721.2 979.5,712.7 987.5,717.3 995.5,717.3 1003.5,716.1 1011.5,725.8 1019.5,728.9 1027.5,743.3 1035.5,741.7 1043.5,739.8 1051.5,744.6 1059.5,736.9 1067.5,727.1 1075.5,717.7 1083.5,716.0 1091.5,714.5 1099.5,721.1 1107.5,720.5 1115.5,721.1" fill="none" stroke="#1e90ff" stroke-width="1"/>
</g>
<g fill="#000" shape-rendering="crispEdges"><rect x="1419" y="33" width="2" height="1"/><rect x="1419" y="66" width="2" height="1"/><rect x="1419" y="99" width="2" height="1"/><rect x="1419" y="132" width="2" height="1"/><rect x="1419" y="165" width="2" height="1"/><rect x="1419" y="198" width="2" height="1"/><rect x="1419" y="231" width="2" height="1"/><rect x="1419" y="264" width="2" height="1"/><rect x="1419" y="297" width="2" height="1"/><rect x="1419" y="330" width="2" height="1"/><rect x="1419" y="363" width="2" height="1"/><rect x="1419" y="396" width="2" height="1"/><rect x="1419" y="429" width="2" height="1"/><rect x="1419" y="462" width="2" height="1"/><rect x="1419" y="495" width="2" height="1"/><rect x="1419" y="528" width="2" height="1"/><rect x="1419" y="561" width="2" height="1"/><rect x="1419" y="622" width="2" height="1"/><rect x="1419" y="568" width="1" height="1"/><rect x="1419" y="668" width="2" height="1"/><rect x="1419" y="673" width="2" height="1"/><rect x="3" y="802" width="1" height="3"/><rect x="67" y="802" width="1" height="3"/><rect x="131" y="802" width="1" height="3"/><rect x="195" y="802" width="1" height="3"/><rect x="259" y="802" width="1" height="3"/><rect x="323" y="802" width="1" height="3"/><rect x="387" y="802" width="1" height="3"/><rect x="451" y="802" width="1" height="3"/><rect x="515" y="802" width="1" height="3"/><rect x="579" y="802" width="1" height="3"/><rect x="643" y="802" width="1" height="3"/><rect x="707" y="802" width="1" height="3"/><rect x="771" y="802" width="1" height="3"/><rect x="835" y="802" width="1" height="3"/><rect x="899" y="802" width="1" height="3"/><rect x="963" y="802" width="1" height="3"/><rect x="1027" y="802" width="1" height="3"/><rect x="1091" y="802" width="1" height="3"/></g>
<rect x="1420" y="223" width="38" height="11" fill="#000"/>
</svg>
<div class="a" style="left:1419px;top:25px;width:39px;height:540px;overflow:hidden">
<div class="t" style="left:5px;top:5px;font-size:10px;color:#000;letter-spacing:-0.45px;">1.15285</div>
<div class="t" style="left:5px;top:38px;font-size:10px;color:#000;letter-spacing:-0.45px;">1.15015</div>
<div class="t" style="left:5px;top:71px;font-size:10px;color:#000;letter-spacing:-0.45px;">1.14750</div>
<div class="t" style="left:5px;top:104px;font-size:10px;color:#000;letter-spacing:-0.45px;">1.14480</div>
<div class="t" style="left:5px;top:137px;font-size:10px;color:#000;letter-spacing:-0.45px;">1.14210</div>
<div class="t" style="left:5px;top:170px;font-size:10px;color:#000;letter-spacing:-0.45px;">1.13945</div>
<div class="t" style="left:5px;top:203px;font-size:10px;color:#000;letter-spacing:-0.45px;">1.13675</div>
<div class="t" style="left:5px;top:236px;font-size:10px;color:#000;letter-spacing:-0.45px;">1.13405</div>
<div class="t" style="left:5px;top:269px;font-size:10px;color:#000;letter-spacing:-0.45px;">1.13135</div>
<div class="t" style="left:5px;top:302px;font-size:10px;color:#000;letter-spacing:-0.45px;">1.12870</div>
<div class="t" style="left:5px;top:335px;font-size:10px;color:#000;letter-spacing:-0.45px;">1.12600</div>
<div class="t" style="left:5px;top:368px;font-size:10px;color:#000;letter-spacing:-0.45px;">1.12330</div>
<div class="t" style="left:5px;top:401px;font-size:10px;color:#000;letter-spacing:-0.45px;">1.12065</div>
<div class="t" style="left:5px;top:434px;font-size:10px;color:#000;letter-spacing:-0.45px;">1.11795</div>
<div class="t" style="left:5px;top:467px;font-size:10px;color:#000;letter-spacing:-0.45px;">1.11525</div>
<div class="t" style="left:5px;top:500px;font-size:10px;color:#000;letter-spacing:-0.45px;">1.11255</div>
<div class="t" style="left:5px;top:532px;font-size:10px;color:#000;letter-spacing:-0.45px;">1.10990</div>
</div>
<div class="t" style="left:1424px;top:225px;font-size:10px;color:#fff;letter-spacing:-0.45px;">1.13703</div>
<div class="a" style="left:1419px;top:566px;width:39px;height:104px;overflow:hidden">
<div class="t" style="left:3px;top:4px;font-size:10px;color:#000;letter-spacing:-0.35px;">0.004379</div>
<div class="t" style="left:3px;top:54px;font-size:10px;color:#000;letter-spacing:-0.35px;">0.00</div>
<div class="t" style="left:2px;top:94px;font-size:10px;color:#000;letter-spacing:-0.35px;">-0.00371</div>
</div>
<div class="t" style="left:1421px;top:675px;font-size:10px;color:#000;letter-spacing:-0.35px;">100</div>
<div class="t" style="left:1420px;top:708px;font-size:10px;color:#000;letter-spacing:-0.35px;">70</div>
<div class="t" style="left:1420px;top:759px;font-size:10px;color:#000;letter-spacing:-0.35px;">30</div>
<div class="t" style="left:1421px;top:791px;font-size:10px;color:#000;letter-spacing:-0.35px;">0</div>
<div class="t" style="left:2px;top:807px;font-size:10px;color:#000;letter-spacing:-0.35px;">15 Jan 2019</div>
<div class="t" style="left:66px;top:807px;font-size:10px;color:#000;letter-spacing:-0.35px;">24 Jan 2019</div>
<div class="t" style="left:130px;top:807px;font-size:10px;color:#000;letter-spacing:-0.35px;">3 Feb 2019</div>
<div class="t" style="left:194px;top:807px;font-size:10px;color:#000;letter-spacing:-0.35px;">12 Feb 2019</div>
<div class="t" style="left:258px;top:807px;font-size:10px;color:#000;letter-spacing:-0.35px;">21 Feb 2019</div>
<div class="t" style="left:322px;top:807px;font-size:10px;color:#000;letter-spacing:-0.35px;">3 Mar 2019</div>
<div class="t" style="left:386px;top:807px;font-size:10px;color:#000;letter-spacing:-0.35px;">12 Mar 2019</div>
<div class="t" style="left:450px;top:807px;font-size:10px;color:#000;letter-spacing:-0.35px;">21 Mar 2019</div>
<div class="t" style="left:514px;top:807px;font-size:10px;color:#000;letter-spacing:-0.35px;">31 Mar 2019</div>
<div class="t" style="left:578px;top:807px;font-size:10px;color:#000;letter-spacing:-0.35px;">9 Apr 2019</div>
<div class="t" style="left:642px;top:807px;font-size:10px;color:#000;letter-spacing:-0.35px;">18 Apr 2019</div>
<div class="t" style="left:706px;top:807px;font-size:10px;color:#000;letter-spacing:-0.35px;">29 Apr 2019</div>
<div class="t" style="left:770px;top:807px;font-size:10px;color:#000;letter-spacing:-0.35px;">8 May 2019</div>
<div class="t" style="left:834px;top:807px;font-size:10px;color:#000;letter-spacing:-0.35px;">17 May 2019</div>
<div class="t" style="left:898px;top:807px;font-size:10px;color:#000;letter-spacing:-0.35px;">27 May 2019</div>
<div class="t" style="left:962px;top:807px;font-size:10px;color:#000;letter-spacing:-0.35px;">5 Jun 2019</div>
<div class="t" style="left:1026px;top:807px;font-size:10px;color:#000;letter-spacing:-0.35px;">14 Jun 2019</div>
<div class="t" style="left:1090px;top:807px;font-size:10px;color:#000;letter-spacing:-0.35px;">24 Jun 2019</div>
<svg class="a" style="left:6px;top:32px" width="7" height="4"><polygon points="0,4 7,4 3.5,0" fill="#000"/></svg>
<div class="t" style="left:18px;top:30px;font-size:10px;color:#000;letter-spacing:-0.3px;">EURUSD-,Daily</div>
<div class="t" style="left:91px;top:30px;font-size:10px;color:#000;letter-spacing:-0.35px;">1.13730 1.13736 1.13682 1.13703</div>
<div class="t" style="left:7px;top:572px;font-size:10px;color:#000;letter-spacing:-0.3px;">MACD(12,26,9) 0.004012 0.002488</div>
<div class="t" style="left:7px;top:676px;font-size:10px;color:#000;letter-spacing:-0.3px;">RSI(14) 62.5692</div>

<div class="a" style="left:4px;top:44px;width:223px;height:67px;background:#fff"></div>
<svg class="a" style="left:0;top:0" width="230" height="112">
<defs><linearGradient id="pg" gradientUnits="userSpaceOnUse" x1="0" y1="45" x2="0" y2="109"><stop offset="0" stop-color="#f85656"/><stop offset="0.36" stop-color="#dc3434"/><stop offset="0.42" stop-color="#d42a2a"/><stop offset="1" stop-color="#ae0000"/></linearGradient></defs>
<path d="M6,45H58V69H115V109H6Z" fill="#b80000"/>
<path d="M7,46H57V70H114V108H7Z" fill="url(#pg)"/>
<path d="M173,45H225V109H117V69H173Z" fill="#b80000"/>
<path d="M174,46H224V108H118V70H174Z" fill="url(#pg)"/>
<rect x="10" y="68" width="44" height="1" fill="#7a0000"/><rect x="10" y="69" width="44" height="1" fill="#e86a6a"/>
<rect x="177" y="68" width="44" height="1" fill="#7a0000"/><rect x="177" y="69" width="44" height="1" fill="#e86a6a"/>
</svg>
<div class="a" style="left:60px;top:45px;width:111px;height:22px;background:#fff;box-shadow:inset 0 0 0 1px #a0a0a8"></div>
<div class="a" style="left:61px;top:46px;width:20px;height:20px;background:linear-gradient(#f0f0f0,#d4d4d4);border-right:1px solid #a8a8a8"></div>
<div class="a" style="left:150px;top:46px;width:20px;height:20px;background:linear-gradient(#f0f0f0,#d4d4d4);border-left:1px solid #a8a8a8"></div>
<svg class="a" style="left:68px;top:54px" width="6" height="4"><polygon points="0,0 5,0 2.5,3" fill="#5066c8"/></svg>
<svg class="a" style="left:157px;top:54px" width="6" height="4"><polygon points="0,3 5,3 2.5,0" fill="#5066c8"/></svg>

<div class="t" style="left:122px;top:49px;font-size:13px;color:#000;letter-spacing:0;">1.00</div>
<div class="t" style="left:17px;top:51px;font-size:12px;color:#fff;letter-spacing:-0.3px;">SELL</div>
<div class="t" style="left:186px;top:51px;font-size:12px;color:#fff;letter-spacing:0;">BUY</div>
<div class="t" style="left:25px;top:89px;font-size:13px;color:#fff;letter-spacing:0.2px;font-weight:bold">1.13</div>
<div class="t" style="left:52px;top:71px;font-size:36px;color:#fff;letter-spacing:-2px;-webkit-text-stroke:0">70</div>
<div class="t" style="left:93px;top:74px;font-size:12px;color:#fff;letter-spacing:0;font-weight:bold">3</div>
<div class="t" style="left:135px;top:89px;font-size:13px;color:#fff;letter-spacing:0.2px;font-weight:bold">1.13</div>
<div class="t" style="left:163px;top:71px;font-size:36px;color:#fff;letter-spacing:-2px;-webkit-text-stroke:0">72</div>
<div class="t" style="left:204px;top:74px;font-size:12px;color:#fff;letter-spacing:0;font-weight:bold">0</div>
<div class="a" style="left:0;top:822px;width:1458px;height:1px;background:#e3e3e3"></div>
<div class="a" style="left:0;top:824px;width:1458px;height:1px;background:#000"></div>
<div class="a" style="left:0;top:825px;width:1458px;height:19px;background:#f0f0f0"></div>
<div class="a" style="left:0;top:844px;width:1458px;height:2px;background:#fafafa"></div>
<div class="a" style="left:4px;top:824px;width:106px;height:18px;background:#fff;border:1px solid #000;border-top:none"></div>
<div class="t" style="left:15px;top:829px;font-size:12px;color:#000;letter-spacing:0;">EURUSD-,Daily</div>
<div class="t" style="left:122px;top:829px;font-size:12px;color:#6d6d6d;letter-spacing:0;">AUDUSD-,Daily</div>
<div class="a" style="left:220px;top:828px;width:1px;height:12px;background:#808080"></div>
<div class="t" style="left:232px;top:829px;font-size:12px;color:#6d6d6d;letter-spacing:0;">USDCHF-,Daily</div>
<div class="a" style="left:329px;top:828px;width:1px;height:12px;background:#808080"></div>
<div class="t" style="left:339px;top:829px;font-size:12px;color:#6d6d6d;letter-spacing:0;">USDCAD-,Daily</div>
<div class="a" style="left:437px;top:828px;width:1px;height:12px;background:#808080"></div>
<div class="t" style="left:448px;top:829px;font-size:12px;color:#6d6d6d;letter-spacing:0;">USDCNH-,Daily</div>
<div class="a" style="left:549px;top:828px;width:1px;height:12px;background:#808080"></div>
<div class="t" style="left:558px;top:829px;font-size:12px;color:#6d6d6d;letter-spacing:0;">EURCHF-,Weekly</div>
<div class="a" style="left:669px;top:828px;width:1px;height:12px;background:#808080"></div>
<div class="t" style="left:678px;top:829px;font-size:12px;color:#6d6d6d;letter-spacing:0;">XAUUSD-,H1</div>
<div class="a" style="left:765px;top:828px;width:1px;height:12px;background:#808080"></div>
<svg class="a" style="left:1432px;top:829px" width="26" height="9"><polygon points="5,0 5,8 1,4" fill="#a0a0a0"/><polygon points="21,0 21,8 25,4" fill="#a0a0a0"/></svg>
</body></html>
